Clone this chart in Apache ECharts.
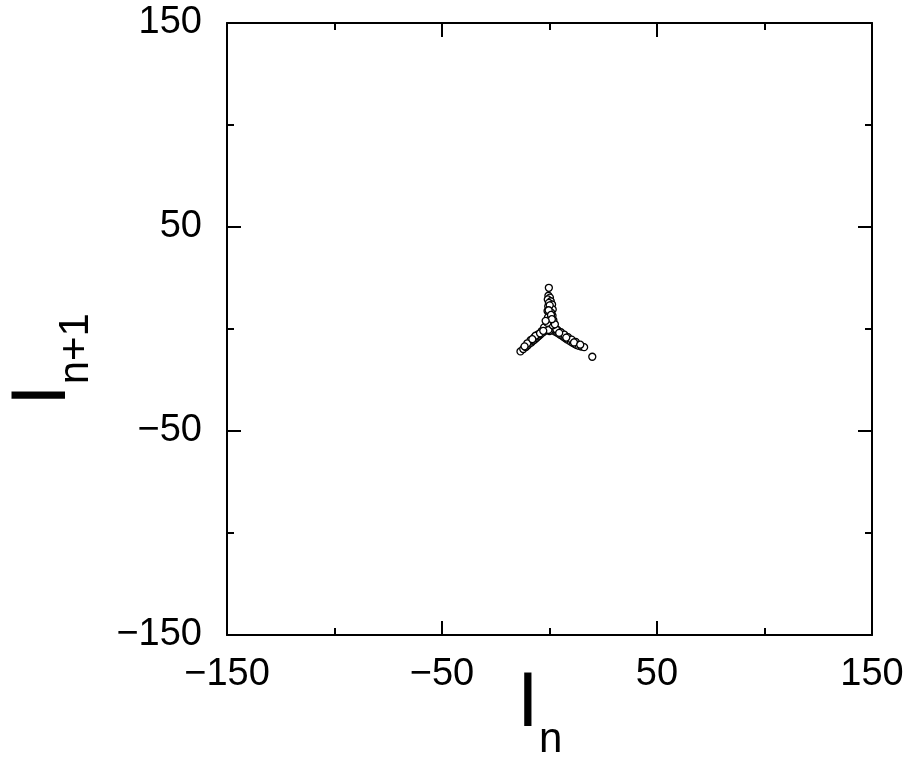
<!DOCTYPE html>
<html>
<head>
<meta charset="utf-8">
<script src="https://cdn.jsdelivr.net/npm/echarts@6/dist/echarts.min.js"></script>
<style>
html,body{margin:0;padding:0;background:#fff;}
#chart{width:907px;height:761px;}
</style>
</head>
<body>
<div id="chart"></div>
<script>
// Return map data: I_n (x) vs I_{n+1} (y)
const xVals = [
  -0.3,
  -0.5, 0.2, -0.8, 0.6, -0.3, 1.2, -0.6, 0.4, 1.5, -0.9, 0.8, -0.2, 1.4, -0.7, 0.5, 1.8, -0.4, 1.0, -1.2, 0.3, 2.0, -0.8, 0.9,
  -13.5, -12.2, -11.0, -10.1, -9.4, -8.5, -7.7, -6.9, -6.1, -5.4, -4.8, -4.0, -3.3, -2.6, -1.9, -1.3, -0.7, -8.8, -7.0, -5.2, -3.6, -2.2, -10.3, -6.5,
  0.8, 1.6, 2.4, 3.3, 4.1, 4.9, 5.7, 6.5, 7.3, 8.1, 9.0, 9.9, 10.8, 11.8, 12.7, 13.7, 14.8, 16.1, 19.9, 2.0, 3.8, 5.3, 6.9, 8.6, 10.3, 12.2, 1.2, 3.0,
  -1.5, -2.5, 0.0, -0.5, 1.5, 2.5, -1.0,
  0.1, -0.4, 0.7, 4.5, 7.8, 11.4, 14.3, -4.4, -8.0, -11.6, -2.9, 1.1, -1.8
];
const yVals = [
  20.2,
  16.3, 15.4, 14.5, 13.6, 12.8, 12.0, 11.1, 10.3, 9.6, 8.8, 8.0, 7.2, 6.5, 5.7, 5.0, 4.3, 3.6, 2.9, 2.2, 1.6, 1.0, 0.6, 0.2,
  -11.0, -9.8, -8.8, -8.0, -7.2, -6.6, -5.8, -5.2, -4.4, -3.7, -3.2, -2.5, -1.8, -1.2, -0.6, -0.1, 0.3, -5.5, -4.0, -2.6, -1.0, -0.1, -7.0, -3.3,
  -0.2, -0.6, -1.1, -1.6, -2.1, -2.7, -3.2, -3.8, -4.4, -5.0, -5.6, -6.2, -6.8, -7.4, -7.9, -8.3, -8.6, -8.9, -13.6, 0.3, -0.6, -1.6, -2.8, -4.0, -5.2, -6.3, 0.8, 0.0,
  1.5, 0.8, -1.0, -0.5, 1.8, 2.3, 3.0,
  11.6, 9.2, 6.9, -1.9, -4.2, -6.6, -7.7, -2.1, -5.0, -8.5, -0.9, 4.8, 4.0
];
const axisMin = -150;
const axisMax = 150;
const tickStep = 100;
const xTitleMain = 'I', xTitleSub = 'n';
const yTitleMain = 'I', yTitleSub = 'n+1';

const points = xVals.map((x, i) => [x, yVals[i]]);
const fmt = v => (v < 0 ? '\u2212' + Math.abs(v) : String(v));
const FONT = 'Liberation Sans';

function axisCfg(pos, showLabel, labelMargin) {
  return {
    type: 'value', position: pos, min: axisMin, max: axisMax, interval: tickStep,
    axisLine: { show: true, onZero: false, lineStyle: { color: '#000', width: 2 } },
    axisTick: { show: true, inside: true, length: 14, lineStyle: { color: '#000', width: 2 } },
    minorTick: { show: true, splitNumber: 2, length: 7, lineStyle: { color: '#000', width: 2 } },
    splitLine: { show: false }, minorSplitLine: { show: false },
    axisLabel: { show: showLabel, formatter: fmt, color: '#000', fontSize: 38, fontFamily: FONT, margin: labelMargin,
                 showMinLabel: true, showMaxLabel: true, hideOverlap: false }
  };
}

function txt(text, x, y, size) {
  return { type: 'text', x: x, y: y,
    style: { text: text, fontSize: size, fontFamily: FONT, fill: '#000', align: 'left', verticalAlign: 'middle' } };
}

const chart = echarts.init(document.getElementById('chart'), null, { renderer: 'canvas' });
chart.setOption({
  animation: false,
  backgroundColor: '#fff',
  grid: { left: 227, right: 35, top: 23, bottom: 126, containLabel: false },
  xAxis: [axisCfg('bottom', true, 21), axisCfg('top', false, 8)],
  yAxis: [axisCfg('left', true, 25), axisCfg('right', false, 8)],
  graphic: [
    txt(xTitleMain, 517, 731.7 - 27.0, 78),
    txt(xTitleSub, 539, 755 - 14.55, 42),
    { type: 'group', x: 70, y: 406, rotation: Math.PI / 2, children: [
      txt(yTitleMain, 0, -27.0, 78),
      txt(yTitleSub, 21.7, 21 - 14.55, 42)
    ] }
  ],
  series: [{
    type: 'scatter', xAxisIndex: 0, yAxisIndex: 0, data: points,
    symbol: 'circle', symbolSize: 7,
    itemStyle: { color: '#fff', borderColor: '#000', borderWidth: 1.3, opacity: 1 },
    emphasis: { disabled: true }
  }]
});
</script>
</body>
</html>
